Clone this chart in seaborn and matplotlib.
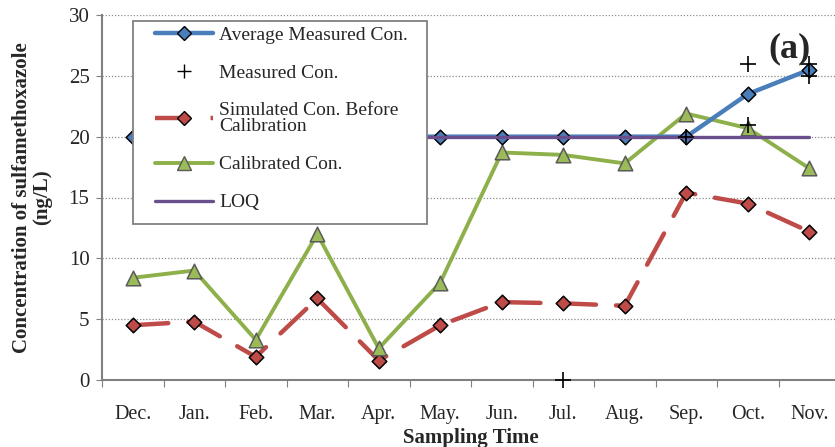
import matplotlib
matplotlib.use('Agg')
import matplotlib.pyplot as plt
from matplotlib.lines import Line2D
from matplotlib.patches import Rectangle
import numpy as np
import pandas as pd
import seaborn as sns

months = ['Dec.', 'Jan.', 'Feb.', 'Mar.', 'Apr.', 'May.', 'Jun.', 'Jul.', 'Aug.', 'Sep.', 'Oct.', 'Nov.']
avg_measured = [20, 20, 20, 20, 20, 20, 20, 20, 20, 20, 23.5, 25.5]
simulated = [4.5, 4.8, 1.9, 6.7, 1.6, 4.5, 6.4, 6.3, 6.1, 15.4, 14.5, 12.2]
calibrated = [8.4, 9.0, 3.3, 12.0, 2.6, 8.0, 18.7, 18.5, 17.8, 21.9, 20.7, 17.4]
loq = [20] * 12
measured_month = ['Jul.', 'Sep.', 'Oct.', 'Oct.', 'Nov.', 'Nov.']
measured_val = [0, 20, 26, 21, 26, 25]

sns.set_style('white')
plt.rcParams['font.family'] = ['Liberation Serif', 'DejaVu Serif']

blue = '#4a7ebb'
red = '#be4b48'
green = '#8db04a'
purple = '#6a4f8c'

df = pd.DataFrame({'pos': np.arange(len(months)), 'month': months,
                   'avg': avg_measured, 'sim': simulated, 'cal': calibrated, 'loq': loq})
mdf = pd.DataFrame({'pos': [months.index(m) for m in measured_month], 'val': measured_val})

fig = plt.figure(figsize=(8.35, 4.47), dpi=100)
ax = fig.add_axes([102 / 835, 1 - 380 / 447, 738 / 835, 365 / 447])

sns.lineplot(data=df, x='pos', y='sim', ax=ax, color=red, lw=3.2, zorder=3)
ax.lines[-1].set_dashes([8, 4.5])
ax.lines[-1].set_dash_capstyle('round')
sns.scatterplot(data=df, x='pos', y='sim', ax=ax, marker='D', s=55, color=red,
                edgecolor='black', linewidth=1.1, zorder=4)
sns.lineplot(data=df, x='pos', y='cal', ax=ax, color=green, lw=2.8, zorder=5)
sns.scatterplot(data=df, x='pos', y='cal', ax=ax, marker='^', s=110, color='#9bbb59',
                edgecolor='#5a5a5a', linewidth=1.1, zorder=6)
sns.lineplot(data=df, x='pos', y='avg', ax=ax, color=blue, lw=3.2, zorder=7)
sns.scatterplot(data=df, x='pos', y='avg', ax=ax, marker='D', s=55, color=blue,
                edgecolor='black', linewidth=1.1, zorder=8)
sns.lineplot(data=df, x='pos', y='loq', ax=ax, color=purple, lw=2.4, zorder=9)
sns.scatterplot(data=mdf, x='pos', y='val', ax=ax, marker='+', s=120, color='black',
                linewidth=1.2, zorder=10, clip_on=False)

ax.set_xlim(-0.5, 11.5)
ax.set_ylim(0, 30)
ax.set_yticks(np.arange(0, 31, 5))
ax.set_xticks(np.arange(-0.5, 12, 1))
ax.set_xticklabels([])
ax.set_xticks(np.arange(12), minor=True)
ax.set_xticklabels(months, minor=True)
ax.tick_params(axis='x', which='major', direction='out', length=5, color='#808080', bottom=True)
ax.tick_params(axis='x', which='minor', length=0, pad=18, labelsize=14.5)
ax.tick_params(axis='y', direction='out', length=4, color='#808080', left=True, labelsize=15, pad=5)

for y in range(5, 31, 5):
    ax.axhline(y, color='#8c8c8c', lw=0.9, ls=(0, (1, 1.5)), zorder=1)
for s in ['top', 'right']:
    ax.spines[s].set_visible(False)
for s in ['left', 'bottom']:
    ax.spines[s].set_color('#808080')
    ax.spines[s].set_linewidth(1.5)

ax.set_xlabel('Sampling Time', fontsize=15, fontweight='bold', labelpad=3)
ax.set_ylabel('Concentration of sulfamethoxazole\n(ng/L)', fontsize=15, fontweight='bold',
              labelpad=12, linespacing=1.0)
ax.text(10.33, 27.2, '(a)', fontsize=26, fontweight='bold', va='center', zorder=12)

# legend box
ax.add_patch(Rectangle((31 / 738, (380 - 224) / 365), (427 - 133) / 738, (224 - 21) / 365,
                       transform=ax.transAxes, facecolor='white', edgecolor='#808080',
                       lw=1.3, zorder=19))

handles = [
    Line2D([], [], color=blue, lw=3.2, marker='D', markersize=7, markerfacecolor=blue, markeredgecolor='black'),
    Line2D([], [], color='black', lw=0, marker='+', markersize=10),
    Line2D([], [], color=red, lw=3.2, dashes=[8, 4.5], marker='D', markersize=7,
           markerfacecolor=red, markeredgecolor='black'),
    Line2D([], [], color=green, lw=2.8, marker='^', markersize=10, markerfacecolor='#9bbb59', markeredgecolor='#5a5a5a'),
    Line2D([], [], color=purple, lw=2.4),
]
labels = ['Average Measured Con.', 'Measured Con.', 'Simulated Con. Before\nCalibration',
          'Calibrated Con.', 'LOQ']
leg = ax.legend(handles, labels, loc='upper left', bbox_to_anchor=(53 / 738, (380 - 26) / 365),
                fontsize=14, frameon=False, handlelength=3.0,
                handletextpad=0.3, labelspacing=1.05, borderpad=0, borderaxespad=0)
for t in leg.get_texts():
    t.set_linespacing(0.95)
leg.set_zorder(20)

fig.savefig('out.png', dpi=100)
